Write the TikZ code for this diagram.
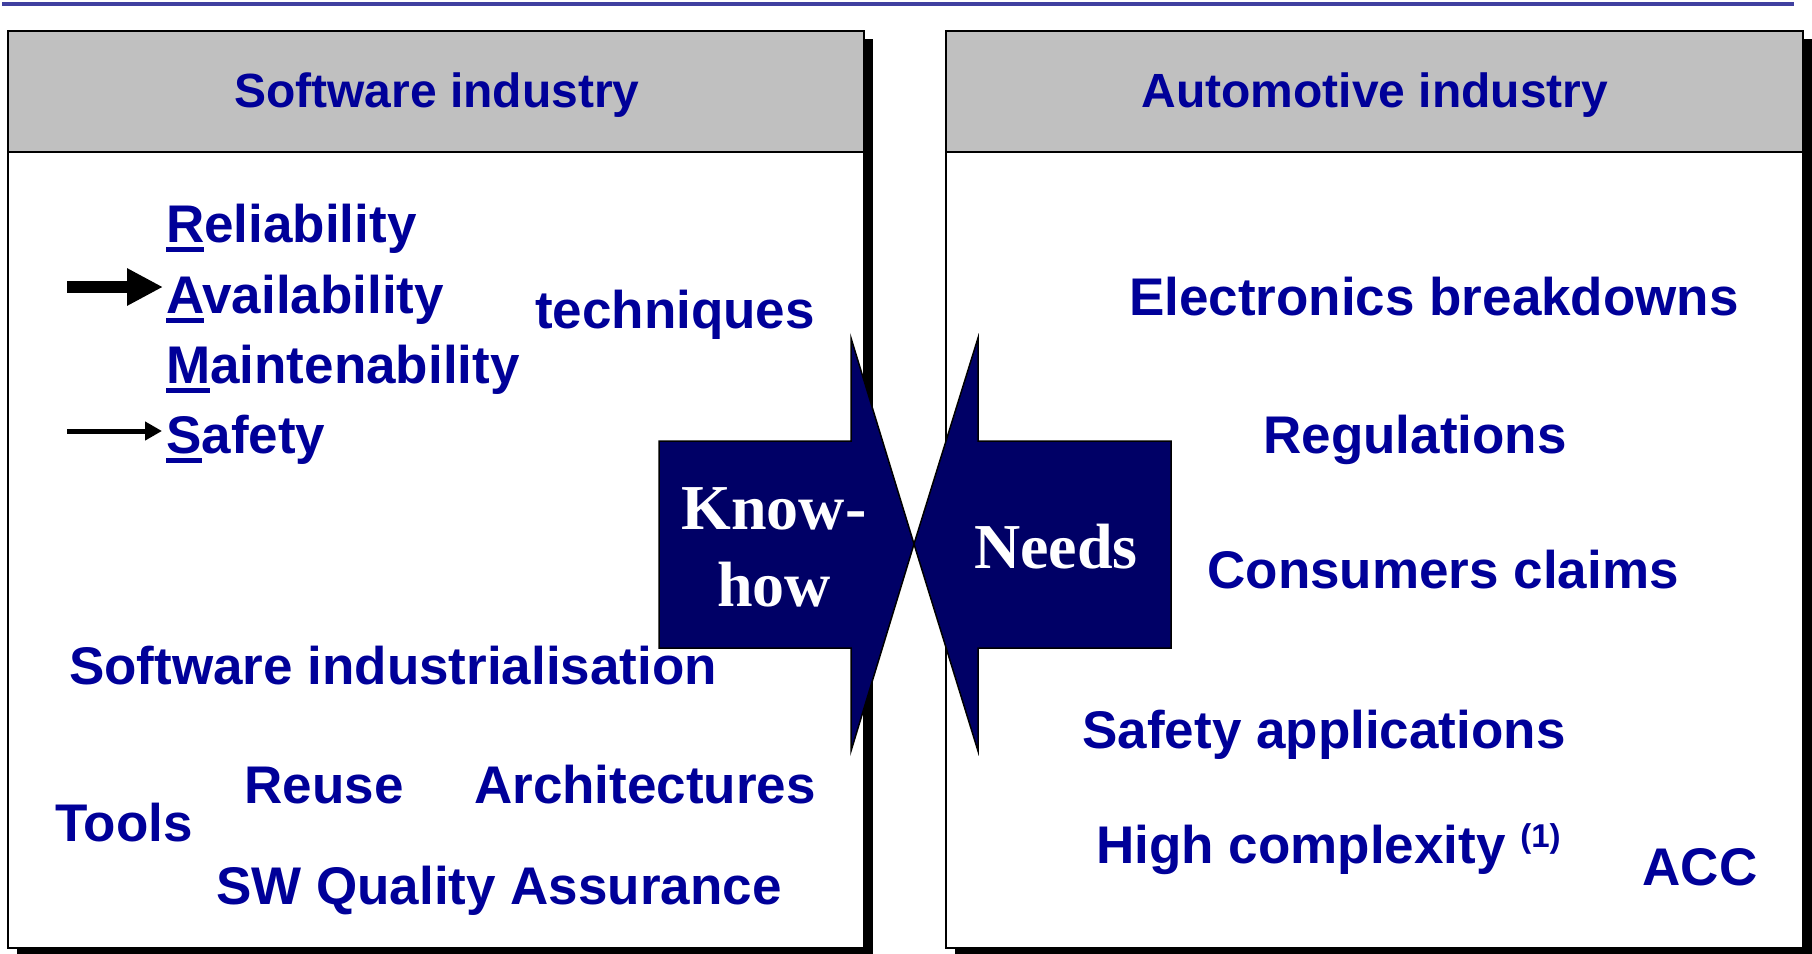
\documentclass[tikz,border=0pt]{standalone}
\usepackage{fontspec}
\setmainfont{Liberation Sans}
\newfontfamily\serifbf{Liberation Serif}
\usetikzlibrary{arrows.meta}
\definecolor{txtblue}{RGB}{0,0,153}
\definecolor{navy}{RGB}{0,0,102}
\definecolor{rulecol}{RGB}{64,64,160}
\definecolor{headgray}{RGB}{192,192,192}
\newcommand\firstul[1]{\setbox0\hbox{#1}\rlap{\rule[-10pt]{\wd0}{5pt}}#1}
\begin{document}
\begin{tikzpicture}[x=1pt,y=-1pt,
  lbl/.style={inner sep=0pt, text=txtblue, font=\fontsize{53}{60}\selectfont\bfseries},
  hdr/.style={inner sep=0pt, text=txtblue, font=\fontsize{48}{56}\selectfont\bfseries},
  bigarrow/.style={fill=navy, draw=black, line width=1.5pt, line join=miter},
  arrtxt/.style={inner sep=0pt, text=white, font=\fontsize{64}{77}\selectfont\serifbf\bfseries},
  panel/.style={draw=black, line width=2pt},
  shade/.style={fill=black}]
\useasboundingbox (0,0) rectangle (1812,953);
\fill[white] (0,0) rectangle (1812,953);
% top rule
\draw[rulecol, line width=4pt] (2,4) -- (1794,4);
% shadows
\fill[shade] (17,39) rectangle (873,960);
\fill[shade] (955,39) rectangle (1812,960);
% panels
\fill[white] (8,31) rectangle (864,948);
\fill[white] (946,31) rectangle (1803,948);
\fill[headgray] (8,31) rectangle (864,152);
\fill[headgray] (946,31) rectangle (1803,152);
\draw[panel] (8,31) rectangle (864,948);
\draw[panel] (946,31) rectangle (1803,948);
\draw[panel] (8,152) -- (864,152);
\draw[panel] (946,152) -- (1803,152);
% headers
\node[hdr, anchor=base] (swh) at (437,107) {Software industry};
\node[hdr, anchor=base] (auh) at (1375,107) {Automotive industry};
% RAMS list
\node[lbl, anchor=base west] (rel) at (166,242) {\firstul{R}eliability};
\node[lbl, anchor=base west] (avail) at (166,313) {\firstul{A}vailability};
\node[lbl, anchor=base west] (maint) at (166,383) {\firstul{M}aintenability};
\node[lbl, anchor=base west] (safe) at (166,453) {\firstul{S}afety};
\node[lbl, anchor=base] (tech) at (675,328) {techniques};
% small arrows
\coordinate (aS) at (67,287);
\coordinate (aT) at (163,287);
\coordinate (sS) at (67,431);
\coordinate (sT) at (162,431);
\draw[line width=12pt, -{Triangle[length=36pt,width=35pt]}] (aS) -- (aT);
\draw[line width=5pt, -{Triangle[length=17pt,width=18pt]}] (sS) -- (sT);
% left lower texts
\node[lbl, anchor=base] (swind) at (393,684) {Software industrialisation};
\node[lbl, anchor=base] (reuse) at (324,803) {Reuse};
\node[lbl, anchor=base] (arch) at (645,803) {Architectures};
\node[lbl, anchor=base] (tools) at (124,841) {Tools};
\node[lbl, anchor=base] (swqa) at (499,904) {SW Quality Assurance};
% right texts
\node[lbl, anchor=base] (elec) at (1434,315) {Electronics breakdowns};
\node[lbl, anchor=base] (regu) at (1415,453) {Regulations};
\node[lbl, anchor=base] (cons) at (1443,588) {Consumers claims};
\node[lbl, anchor=base] (safapp) at (1324,748) {Safety applications};
\node[lbl, anchor=base west] (high) at (1096,863) {High complexity \raisebox{16pt}{\fontsize{33}{33}\selectfont (1)}};
\node[lbl, anchor=base] (acc) at (1700,885) {ACC};
% big arrows
\draw[bigarrow] (659,441) -- (851,441) -- (851,338) -- (914,544) -- (851,751) -- (851,648) -- (659,648) -- cycle;
\draw[bigarrow] (1171,441) -- (978,441) -- (978,338) -- (914,544) -- (978,751) -- (978,648) -- (1171,648) -- cycle;
\node[arrtxt, anchor=base] (know) at (774,529) {Know-};
\node[arrtxt, anchor=base] (how) at (774,606) {how};
\node[arrtxt, anchor=base] (needs) at (1056,568) {Needs};
\end{tikzpicture}
\end{document}
